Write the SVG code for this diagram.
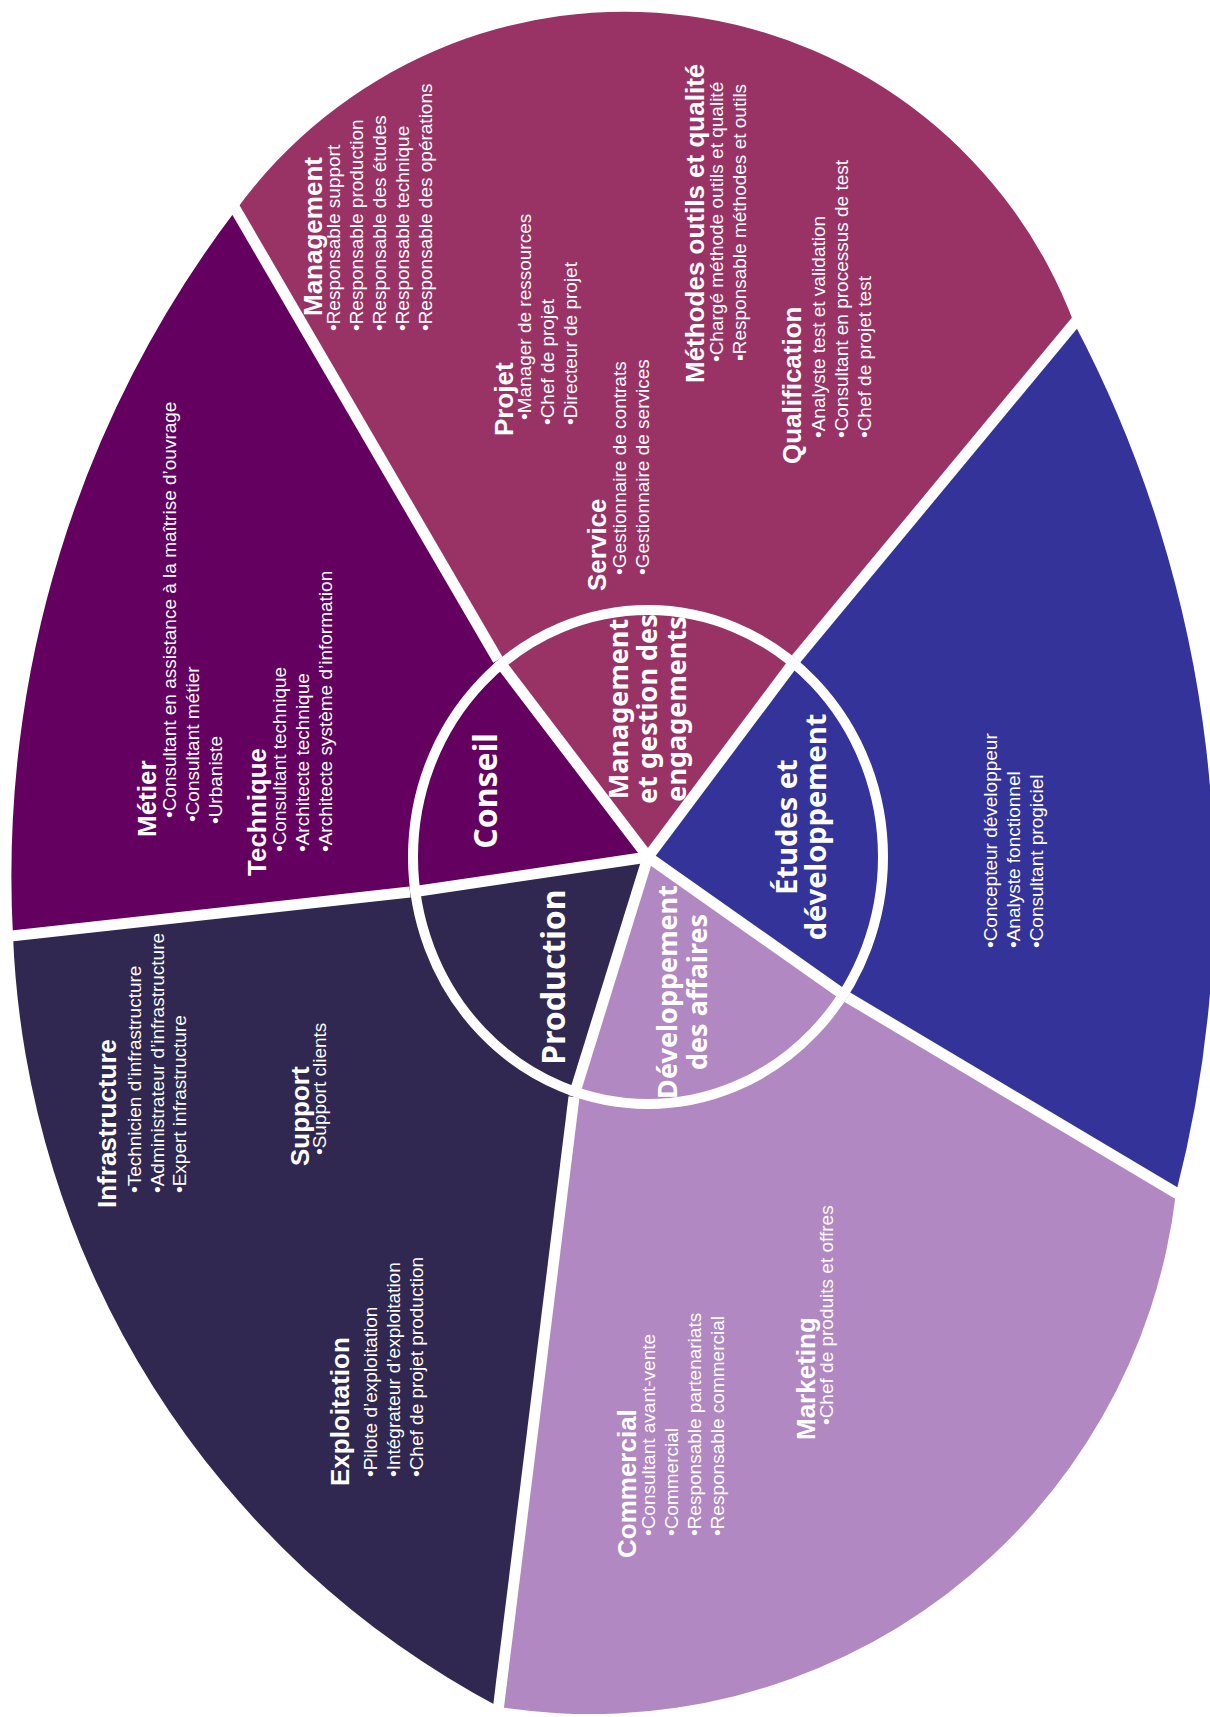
<svg xmlns="http://www.w3.org/2000/svg" width="1210" height="1717" viewBox="0 0 1210 1717">
<style>
.b{font-family:"Liberation Sans",Arial,sans-serif;font-size:19px;fill:#fff}
.t{font-family:"Liberation Sans",Arial,sans-serif;font-size:26px;font-weight:bold;fill:#fff}
.c{font-family:"Noto Sans",sans-serif;font-weight:bold;fill:#fff;text-anchor:middle}
.sep{stroke:#fff;stroke-width:11;fill:none;stroke-linecap:butt}
</style>
<rect width="1210" height="1717" fill="#fff"/>
<g id="outer-wedges">
<path id="w-conseil" fill="#630060" d="M13,936 A1100,1100 0 0 1 236,210 L498,660 L648,857 L410,892 Z"/>
<path id="w-management" fill="#993366" d="M236,210 A480,480 0 0 1 1074,323 L796,659 L648,857 L498,660 Z"/>
<path id="w-etudes" fill="#333399" d="M1074,323 A1215,1215 0 0 1 1176,1193 L847,997 L648,857 L796,659 Z"/>
<path id="w-dev" fill="#B188C1" d="M1176,1193 A590,590 0 0 1 499,1707 L574,1097 L648,857 L847,997 Z"/>
<path id="w-production" fill="#302850" d="M499,1707 A914,914 0 0 1 13,936 L410,892 L648,857 L574,1097 Z"/>
</g>
<g id="separators">
<line class="sep" x1="498" y1="660" x2="226" y2="193"/>
<line class="sep" x1="410" y1="892" x2="-7" y2="938"/>
<line class="sep" x1="574" y1="1097" x2="496" y2="1727"/>
<line class="sep" x1="847" y1="997" x2="1193" y2="1203"/>
<line class="sep" x1="796" y1="659" x2="1087" y2="308"/>
</g>
<g id="inner-pie">
<path id="s-dev" fill="#B188C1" d="M648,857 L847.4,997.4 A240,252 0 0 1 573.6,1096.6 Z"/>
<path id="s-production" fill="#302850" d="M648,857 L573.6,1096.6 A240,252 0 0 1 410.4,892.3 Z"/>
<path id="s-conseil" fill="#630060" d="M648,857 L410.4,892.3 A240,252 0 0 1 498.1,660.1 Z"/>
<path id="s-management" fill="#993366" d="M648,857 L498.1,660.1 A240,252 0 0 1 796.3,658.9 Z"/>
<path id="s-etudes" fill="#333399" d="M648,857 L796.3,658.9 A240,252 0 0 1 847.4,997.4 Z"/>
<ellipse cx="648" cy="857" rx="235" ry="247" fill="none" stroke="#fff" stroke-width="10"/>
<g class="sep">
<line x1="648" y1="857" x2="498.1" y2="660.1"/>
<line x1="648" y1="857" x2="410.4" y2="892.3"/>
<line x1="648" y1="857" x2="573.6" y2="1096.6"/>
<line x1="648" y1="857" x2="847.4" y2="997.4"/>
<line x1="648" y1="857" x2="796.3" y2="658.9"/>
</g>
</g>
<g id="conseil">
<text class="c" font-size="32" transform="translate(497,791) rotate(-90)">Conseil</text>
<text class="t" transform="translate(156,837) rotate(-90)">Métier</text>
<text class="b" transform="translate(176,818) rotate(-90)">•Consultant en assistance à la maîtrise d’ouvrage</text>
<text class="b" transform="translate(199,822) rotate(-90)">•Consultant métier</text>
<text class="b" transform="translate(222,824) rotate(-90)">•Urbaniste</text>
<text class="t" transform="translate(266,876) rotate(-90)">Technique</text>
<text class="b" transform="translate(286,852) rotate(-90)">•Consultant technique</text>
<text class="b" transform="translate(309,852) rotate(-90)">•Architecte technique</text>
<text class="b" transform="translate(332,852) rotate(-90)">•Architecte système d’information</text>
</g>
<g id="management">
<text class="c" font-size="27" transform="translate(628,709) rotate(-90)">Management</text>
<text class="c" font-size="27" transform="translate(657,709) rotate(-90)">et gestion des</text>
<text class="c" font-size="27" transform="translate(686,709) rotate(-90)">engagements</text>
<text class="t" transform="translate(322,316) rotate(-90)">Management</text>
<text class="b" transform="translate(340,331) rotate(-90)">•Responsable support</text>
<text class="b" transform="translate(363,331) rotate(-90)">•Responsable production</text>
<text class="b" transform="translate(386,331) rotate(-90)">•Responsable des études</text>
<text class="b" transform="translate(409,331) rotate(-90)">•Responsable technique</text>
<text class="b" transform="translate(432,331) rotate(-90)">•Responsable des opérations</text>
<text class="t" transform="translate(513,436) rotate(-90)">Projet</text>
<text class="b" transform="translate(531,420) rotate(-90)">•Manager de ressources</text>
<text class="b" transform="translate(554,425) rotate(-90)">•Chef de projet</text>
<text class="b" transform="translate(577,425) rotate(-90)">•Directeur de projet</text>
<text class="t" transform="translate(606,591) rotate(-90)">Service</text>
<text class="b" transform="translate(626,575) rotate(-90)">•Gestionnaire de contrats</text>
<text class="b" transform="translate(649,575) rotate(-90)">•Gestionnaire de services</text>
<text class="t" transform="translate(704,383) rotate(-90)">Méthodes outils et qualité</text>
<text class="b" transform="translate(723,362) rotate(-90)">•Chargé méthode outils et qualité</text>
<text class="b" transform="translate(746,361) rotate(-90)">▪Responsable méthodes et outils</text>
<text class="t" transform="translate(801,464) rotate(-90)">Qualification</text>
<text class="b" transform="translate(825,438) rotate(-90)">•Analyste test et validation</text>
<text class="b" transform="translate(848,438) rotate(-90)">•Consultant en processus de test</text>
<text class="b" transform="translate(871,438) rotate(-90)">•Chef de projet test</text>
</g>
<g id="etudes">
<text class="c" font-size="29" transform="translate(797,827) rotate(-90)">Études et</text>
<text class="c" font-size="29" transform="translate(826,827) rotate(-90)">développement</text>
<text class="b" transform="translate(997,948) rotate(-90)">•Concepteur développeur</text>
<text class="b" transform="translate(1020,948) rotate(-90)">•Analyste fonctionnel</text>
<text class="b" transform="translate(1043,948) rotate(-90)">•Consultant progiciel</text>
</g>
<g id="developpement">
<text class="c" font-size="27" transform="translate(677,992) rotate(-90)">Développement</text>
<text class="c" font-size="27" transform="translate(707,992) rotate(-90)">des affaires</text>
<text class="t" transform="translate(636,1558) rotate(-90)">Commercial</text>
<text class="b" transform="translate(655,1536) rotate(-90)">•Consultant avant-vente</text>
<text class="b" transform="translate(678,1536) rotate(-90)">•Commercial</text>
<text class="b" transform="translate(701,1536) rotate(-90)">•Responsable partenariats</text>
<text class="b" transform="translate(724,1536) rotate(-90)">•Responsable commercial</text>
<text class="t" transform="translate(815,1440) rotate(-90)">Marketing</text>
<text class="b" transform="translate(833,1425) rotate(-90)">•Chef de produits et offres</text>
</g>
<g id="production">
<text class="c" font-size="32" transform="translate(565,977) rotate(-90)">Production</text>
<text class="t" transform="translate(116,1208) rotate(-90)">Infrastructure</text>
<text class="b" transform="translate(141,1193) rotate(-90)">•Technicien d’infrastructure</text>
<text class="b" transform="translate(164,1193) rotate(-90)">•Administrateur d’infrastructure</text>
<text class="b" transform="translate(186,1193) rotate(-90)">•Expert infrastructure</text>
<text class="t" transform="translate(309,1166) rotate(-90)">Support</text>
<text class="b" transform="translate(326,1155) rotate(-90)">•Support clients</text>
<text class="t" transform="translate(349,1486) rotate(-90)">Exploitation</text>
<text class="b" transform="translate(377,1477) rotate(-90)">•Pilote d’exploitation</text>
<text class="b" transform="translate(400,1477) rotate(-90)">•Intégrateur d’exploitation</text>
<text class="b" transform="translate(423,1477) rotate(-90)">•Chef de projet production</text>
</g>
</svg>
